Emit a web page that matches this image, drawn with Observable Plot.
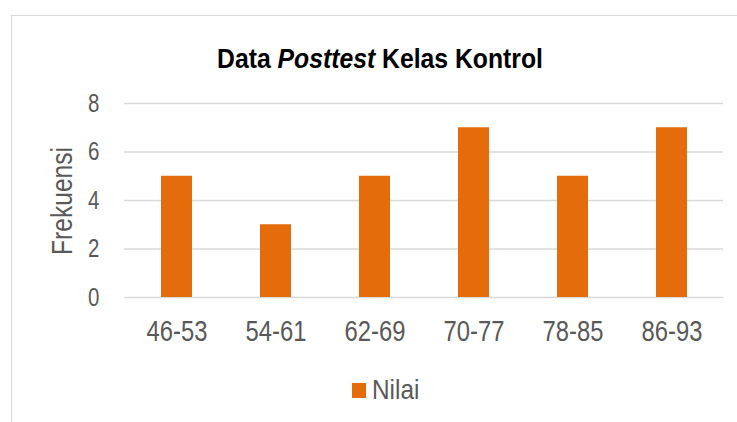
<!DOCTYPE html>
<html><head><meta charset="utf-8">
<script src="https://cdn.jsdelivr.net/npm/d3@7"></script>
<script src="https://cdn.jsdelivr.net/npm/@observablehq/plot@0.6"></script>
<style>
body{margin:0;background:#fff;}
#wrap{position:relative;width:737px;height:422px;overflow:hidden;font-family:"Liberation Sans Narrow","Arial Narrow","Liberation Sans",sans-serif;background:#fff;}
#frame{position:absolute;left:11px;top:15px;width:740px;height:420px;border:1px solid #d9d9d9;box-sizing:border-box;}
#wrap svg{position:absolute;left:0;top:0;}
</style></head>
<body>
<div id="wrap"><div id="frame"></div></div>
<script>
const categories = ["46-53","54-61","62-69","70-77","78-85","86-93"];
const values = [5,3,5,7,5,7];
const yTicks = [0,2,4,6,8];
const seriesName = "Nilai";
const yLabel = "Frekuensi";
const titleParts = [{text:"Data ", italic:false},{text:"Posttest", italic:true},{text:" Kelas Kontrol", italic:false}];
const barColor = "#E46C0A";
const FONT = '"Liberation Sans Narrow","Arial Narrow","Liberation Sans",sans-serif';
const NARROW = 0.82;

const data = categories.map((c,i)=>({cat:c,val:values[i]}));

const chart = Plot.plot({
  width:737, height:422,
  marginLeft:124, marginRight:14, marginTop:103, marginBottom:125,
  style:{fontFamily:FONT, color:"#595959", background:"transparent"},
  x:{domain:categories, paddingInner:0.69, paddingOuter:0.345, label:null},
  y:{domain:[0,8], label:null},
  marks:[
    Plot.gridY(yTicks,{stroke:"#d9d9d9", strokeOpacity:1, strokeWidth:1.5}),
    Plot.barY(data,{x:"cat", y:"val", fill:barColor}),
    Plot.axisY(yTicks,{tickSize:0, tickPadding:25, fontSize:25, label:null, fill:"#595959"}),
    Plot.axisX({tickSize:0, tickPadding:23, fontSize:29, label:null, fill:"#595959"})
  ]
});
document.getElementById("wrap").appendChild(chart);

function narrow(el, f){
  const len = el.getComputedTextLength();
  if (len > 0) {
    el.setAttribute("textLength", (len*(f||NARROW)).toFixed(2));
    el.setAttribute("lengthAdjust", "spacingAndGlyphs");
  }
}

const ov = d3.select("#wrap").append("svg").attr("width",737).attr("height",422)
  .style("font-family",FONT);

// title: separate pieces laid end to end, fitted to the reference width
const titleLeft = 217, titleWidth = 326;
const pieces = titleParts.map(p => ov.append("text").attr("y",68)
  .attr("font-size",27).attr("font-weight","bold").attr("fill","#000")
  .attr("font-style", p.italic ? "italic" : "normal")
  .attr("xml:space","preserve").style("white-space","pre").text(p.text));
const lens = pieces.map(s => s.node().getComputedTextLength());
const total = lens.reduce((a,b)=>a+b,0);
const k = titleWidth/total;
let cx = titleLeft;
pieces.forEach((s,i)=>{
  s.attr("x",cx).attr("textLength",(lens[i]*k).toFixed(2)).attr("lengthAdjust","spacingAndGlyphs");
  cx += lens[i]*k;
});

const yl = ov.append("g").attr("transform","translate(72,201) rotate(-90)");
const ylt = yl.append("text").attr("text-anchor","middle")
  .attr("font-size",30).attr("fill","#595959").text(yLabel);
ov.append("rect").attr("x",352).attr("y",383).attr("width",14).attr("height",15).attr("fill",barColor);
const lg = ov.append("text").attr("x",372).attr("y",399).attr("font-size",28).attr("fill","#595959").text(seriesName);

d3.select(chart).selectAll("text").each(function(){ narrow(this); });
narrow(ylt.node());
narrow(lg.node(), 0.87);
</script>
</body></html>
